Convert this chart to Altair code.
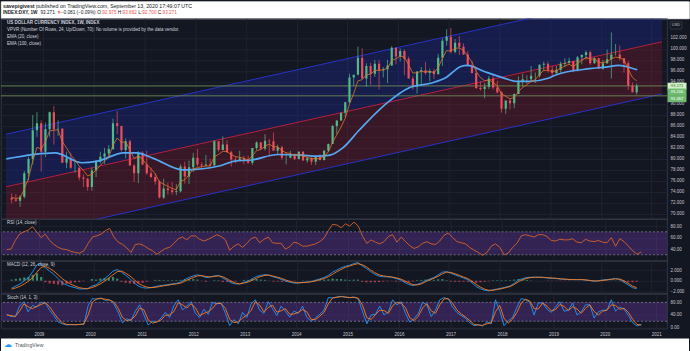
import altair as alt
import numpy as np
import pandas as pd

# ---------------- data (monthly bars, May 2008 - Sep 2020) ----------------
months = pd.date_range("2008-05-01", "2020-09-01", freq="MS")

open_ = [
    72.9, 72.6, 72.4, 73.1, 77.4, 80.0, 85.2, 86.5,
    81.3, 85.4, 88.5, 85.4, 85.5, 79.3, 80.1, 78.4, 78.4, 76.6, 76.4, 74.9,
    77.9, 79.5, 80.4, 81.0, 81.8, 86.5, 86.0, 81.6, 83.2, 78.8, 77.4, 81.1,
    79.0, 77.4, 76.7, 75.9, 73.0, 74.6, 74.3, 74.0, 74.1, 78.6, 76.8, 78.5,
    80.2, 79.0, 78.8, 79.0, 78.8, 83.2, 81.6, 82.6, 81.2, 79.9, 79.8, 80.1,
    79.8, 79.3, 82.0, 83.0, 81.9, 83.3, 83.2, 81.5, 82.1, 80.2, 80.2, 80.7,
    80.0, 81.3, 79.7, 80.1, 79.5, 80.4, 79.8, 81.5, 82.7, 86.0, 87.0, 88.4,
    90.3, 94.8, 95.3, 98.4, 94.6, 96.9, 95.5, 97.3, 96.1, 96.3, 97.0, 100.2,
    98.6, 99.6, 98.2, 94.6, 93.1, 95.9, 96.1, 95.6, 96.0, 95.4, 98.4, 101.5,
    102.2, 99.5, 101.1, 100.4, 99.0, 97.0, 95.6, 92.9, 92.7, 93.1, 94.6, 93.0,
    92.1, 89.1, 90.6, 90.1, 91.8, 94.0, 94.5, 94.5, 95.1, 95.1, 97.1, 97.3,
    96.2, 95.6, 96.2, 97.3, 97.5, 97.8, 96.1, 98.5, 98.9, 99.4, 97.4, 98.3,
    96.4, 97.4, 98.1, 99.0, 99.0, 98.3, 97.4, 93.3, 92.1,
]
high = [
    73.7, 73.6, 73.4, 77.8, 80.4, 88.0, 88.5, 87.0,
    86.6, 88.6, 89.6, 87.0, 85.6, 81.3, 81.1, 79.5, 78.5, 77.2, 76.6, 78.4,
    79.8, 81.3, 82.0, 82.5, 87.3, 88.7, 86.0, 83.7, 83.5, 79.0, 81.4, 81.4,
    81.5, 78.4, 77.4, 76.1, 76.4, 75.7, 75.8, 75.4, 79.0, 79.5, 79.7, 81.1,
    81.8, 79.4, 80.7, 80.0, 83.4, 83.2, 84.1, 83.4, 81.5, 80.4, 81.5, 80.6,
    80.6, 82.0, 83.2, 83.1, 84.5, 83.6, 84.8, 82.6, 82.4, 81.1, 81.5, 81.0,
    81.4, 81.4, 80.4, 80.4, 80.5, 80.8, 81.6, 82.8, 86.2, 87.0, 88.4, 90.4,
    95.5, 95.3, 100.4, 100.1, 97.4, 97.5, 98.0, 98.0, 96.7, 98.0, 100.5, 100.3,
    100.1, 99.9, 98.6, 95.1, 95.9, 96.7, 97.6, 96.4, 96.4, 99.1, 101.9, 103.6,
    103.8, 101.8, 102.3, 101.0, 99.6, 97.8, 96.4, 94.1, 93.8, 95.1, 95.2, 94.2,
    92.3, 90.6, 90.9, 91.9, 95.0, 95.5, 95.2, 96.9, 95.7, 97.2, 97.7, 97.7,
    96.9, 96.9, 97.7, 98.3, 98.4, 97.8, 98.7, 99.0, 99.7, 99.7, 98.5, 98.4,
    98.0, 99.9, 103.0, 100.9, 100.6, 98.3, 97.8, 93.9, 93.7,
]
low = [
    71.9, 72.2, 71.3, 72.8, 76.1, 79.0, 84.0, 77.7,
    80.3, 84.0, 82.6, 84.2, 79.3, 78.3, 78.2, 77.5, 76.1, 74.9, 74.2, 74.2,
    76.7, 79.2, 79.1, 80.1, 81.6, 84.5, 81.3, 80.1, 78.8, 75.8, 75.6, 78.9,
    77.1, 76.5, 75.3, 72.8, 72.7, 73.5, 73.5, 73.4, 73.9, 75.5, 75.4, 77.6,
    78.6, 78.1, 78.7, 78.6, 78.8, 81.3, 81.6, 81.2, 78.6, 79.2, 79.8, 79.0,
    79.1, 78.9, 81.6, 81.6, 81.5, 80.5, 81.5, 80.9, 79.9, 79.0, 80.1, 79.8,
    79.9, 79.7, 79.3, 78.9, 78.9, 79.7, 79.7, 81.2, 82.7, 84.5, 86.9, 87.6,
    90.1, 93.2, 95.2, 94.6, 93.1, 93.5, 94.9, 92.6, 94.8, 93.8, 96.9, 97.2,
    97.7, 95.2, 94.6, 92.6, 91.9, 93.5, 95.3, 94.1, 94.5, 95.4, 96.9, 100.6,
    99.2, 99.2, 98.9, 98.9, 96.8, 95.5, 92.7, 92.4, 91.0, 92.7, 92.6, 91.9,
    88.4, 88.2, 89.0, 89.2, 91.8, 93.2, 93.7, 94.1, 93.8, 94.8, 96.0, 95.7,
    95.0, 95.2, 95.7, 96.7, 97.1, 95.8, 95.9, 97.2, 98.1, 97.1, 97.3, 96.4,
    96.2, 97.3, 94.6, 98.8, 97.9, 95.7, 92.5, 92.1, 91.7,
]
close = [
    72.6, 72.4, 73.1, 77.4, 80.0, 85.2, 86.5, 81.3,
    85.4, 88.5, 85.4, 85.5, 79.3, 80.1, 78.4, 78.4, 76.6, 76.4, 74.9, 77.9,
    79.5, 80.4, 81.0, 81.8, 86.5, 86.0, 81.6, 83.2, 78.8, 77.4, 81.1, 79.0,
    77.4, 76.7, 75.9, 73.0, 74.6, 74.3, 74.0, 74.1, 78.6, 76.8, 78.5, 80.2,
    79.0, 78.8, 79.0, 78.8, 83.2, 81.6, 82.6, 81.2, 79.9, 79.8, 80.1, 79.8,
    79.3, 82.0, 83.0, 81.9, 83.3, 83.2, 81.5, 82.1, 80.2, 80.2, 80.7, 80.0,
    81.3, 79.7, 80.1, 79.5, 80.4, 79.8, 81.5, 82.7, 86.0, 87.0, 88.4, 90.3,
    94.8, 95.3, 98.4, 94.6, 96.9, 95.5, 97.3, 96.1, 96.3, 97.0, 100.2, 98.6,
    99.6, 98.2, 94.6, 93.1, 95.9, 96.1, 95.6, 96.0, 95.4, 98.4, 101.5, 102.2,
    99.5, 101.1, 100.4, 99.0, 97.0, 95.6, 92.9, 92.7, 93.1, 94.6, 93.0, 92.1,
    89.1, 90.6, 90.1, 91.8, 94.0, 94.5, 94.5, 95.1, 95.1, 97.1, 97.3, 96.2,
    95.6, 96.2, 97.3, 97.5, 97.8, 96.1, 98.5, 98.9, 99.4, 97.4, 98.3, 96.4,
    97.4, 98.1, 99.0, 99.0, 98.3, 97.4, 93.3, 92.1, 93.3,
]
ema20 = [
    73.0, 72.8, 72.9, 74.5, 76.5, 79.6, 82.1, 81.8,
    83.1, 85.1, 85.2, 85.3, 83.1, 82.0, 80.7, 79.8, 78.7, 77.9, 76.9, 77.2,
    78.0, 78.8, 79.6, 80.3, 82.5, 83.8, 83.0, 83.1, 81.6, 80.1, 80.5, 79.9,
    79.0, 78.2, 77.3, 75.8, 75.4, 75.0, 74.6, 74.4, 75.9, 76.2, 77.1, 78.2,
    78.4, 78.6, 78.7, 78.7, 80.4, 80.8, 81.4, 81.3, 80.8, 80.4, 80.3, 80.1,
    79.8, 80.6, 81.5, 81.7, 82.3, 82.7, 82.2, 82.2, 81.5, 81.1, 81.0, 80.6,
    80.9, 80.5, 80.3, 80.0, 80.1, 80.0, 80.5, 81.3, 83.0, 84.4, 85.8, 87.4,
    90.0, 91.9, 94.2, 94.4, 95.3, 95.4, 96.1, 96.1, 96.2, 96.5, 97.9, 98.2,
    98.7, 98.5, 97.1, 95.6, 95.7, 95.9, 95.8, 95.9, 95.7, 96.6, 98.3, 99.7,
    99.6, 100.1, 100.2, 99.7, 98.7, 97.6, 95.9, 94.8, 94.2, 94.4, 93.9, 93.3,
    91.8, 91.4, 90.9, 91.2, 92.2, 93.0, 93.5, 94.1, 94.4, 95.4, 96.1, 96.1,
    95.9, 96.0, 96.5, 96.9, 97.2, 96.8, 97.4, 97.9, 98.5, 98.1, 98.2, 97.5,
    97.5, 97.7, 98.2, 98.5, 98.4, 98.0, 96.3, 94.8, 94.2,
]
# EMA(100) read at points along the curve (decimal years)
ema100_t = [2008.27, 2009.23, 2009.76, 2010.07, 2010.59, 2010.84, 2011.17, 2011.75, 2012.00,
            2012.47, 2012.78, 2013.11, 2013.63, 2014.08, 2014.41, 2014.66, 2014.91, 2015.24,
            2015.76, 2016.21, 2016.66, 2016.93, 2017.24, 2017.37, 2017.70, 2018.09, 2018.34,
            2018.59, 2018.98, 2019.12, 2019.78, 2020.10, 2020.36, 2020.49, 2020.72]
ema100_v = [80.0, 81.1, 79.3, 79.6, 81.1, 81.1, 80.1, 78.0, 78.1,
            78.7, 79.6, 79.8, 80.8, 80.7, 80.5, 80.7, 82.0, 85.3,
            90.0, 92.9, 93.8, 94.7, 96.8, 97.0, 95.9, 94.7, 94.1,
            94.1, 94.7, 95.3, 96.4, 96.7, 97.0, 96.8, 96.2]

# regression channel end points
chan_t = [2008.2636, 2021.2094]
chan_upper = [84.48, 110.9]
chan_mid = [74.93, 101.3]
chan_lower = [65.38, 91.8]
price_lines = [93.271, 91.467]

rsi = [
    39, 40, 55, 66, 70, 73, 79, 70,
    60, 66, 55, 48, 43, 40, 39, 36, 34, 33, 37, 50,
    61, 63, 66, 72, 76, 61, 52, 48, 42, 34, 48, 49,
    46, 41, 37, 31, 36, 41, 43, 50, 58, 61, 56, 63,
    63, 57, 54, 57, 61, 65, 62, 56, 38, 45, 49, 43,
    50, 58, 61, 51, 57, 61, 51, 50, 50, 40, 44, 52,
    50, 45, 45, 47, 49, 53, 59, 72, 83, 82, 77, 84,
    80, 87, 80, 62, 50, 56, 52, 49, 53, 62, 65, 52,
    61, 53, 46, 41, 44, 50, 53, 49, 48, 54, 64, 68,
    60, 53, 51, 49, 43, 38, 34, 29, 34, 45, 49, 43,
    30, 33, 43, 50, 63, 65, 63, 61, 65, 65, 62, 55,
    54, 57, 56, 56, 58, 52, 51, 57, 54, 53, 55, 52,
    51, 60, 45, 58, 53, 45, 37, 31, 35,
]
macd = [
    -1.4, -1.0, -0.6, 0.0, 0.6, 1.7, 3.0, 3.2,
    2.4, 1.8, 1.2, 0.4, -0.45, -0.8, -1.1, -1.3, -1.55, -1.55, -1.5, -1.0,
    -0.8, -0.2, 0.4, 1.0, 1.8, 2.1, 1.6, 1.0, 0.4, -0.4, -1.0, -1.3,
    -1.4, -1.3, -1.1, -0.95, -0.85, -0.75, -0.6, -0.5, -0.3, 0.2, 0.6, 0.9,
    1.1, 0.9, 0.6, 0.7, 0.9, 1.0, 0.5, 0.1, -0.4, -0.6, -0.6, -0.3,
    -0.1, 0.4, 0.8, 1.0, 1.15, 1.0, 0.7, 0.5, 0.2, -0.1, -0.3, -0.45,
    -0.4, -0.3, -0.25, -0.15, 0.1, 0.35, 0.6, 1.0, 1.6, 2.0, 2.4, 2.7,
    2.9, 3.2, 3.4, 2.8, 2.3, 1.7, 1.2, 0.85, 0.75, 0.7, 0.65, 0.4,
    0.2, -0.3, -0.7, -0.9, -0.7, -0.45, 0.0, 0.3, 0.6, 1.1, 1.6, 1.7,
    1.4, 1.1, 0.8, 0.5, 0.2, -0.4, -1.1, -1.5, -1.8, -1.9, -1.7, -1.55,
    -1.4, -1.2, -1.0, -0.5, 0.1, 0.4, 0.6, 0.65, 0.65, 0.65, 0.6, 0.5,
    0.45, 0.4, 0.3, 0.25, 0.2, 0.2, 0.2, 0.2, 0.1, 0.0, -0.1, 0.0,
    0.15, 0.2, 0.3, 0.4, 0.2, -0.3, -0.8, -1.3, -1.5,
]
signal = [
    -1.6, -1.35, -1.05, -0.6, -0.1, 0.6, 1.6, 2.5,
    2.7, 2.3, 1.8, 1.1, 0.4, -0.2, -0.65, -1.0, -1.3, -1.45, -1.5, -1.3,
    -1.0, -0.6, -0.1, 0.5, 1.1, 1.7, 1.8, 1.4, 0.9, 0.2, -0.5, -0.9,
    -1.2, -1.3, -1.25, -1.1, -0.95, -0.85, -0.7, -0.6, -0.45, -0.1, 0.3, 0.6,
    0.9, 0.95, 0.8, 0.7, 0.8, 0.9, 0.75, 0.35, -0.1, -0.45, -0.6, -0.45,
    -0.25, 0.1, 0.5, 0.8, 1.0, 1.05, 0.85, 0.65, 0.4, 0.1, -0.15, -0.35,
    -0.4, -0.35, -0.3, -0.2, -0.05, 0.2, 0.4, 0.75, 1.2, 1.7, 2.1, 2.5,
    2.75, 3.0, 3.2, 3.0, 2.6, 2.0, 1.5, 1.1, 0.9, 0.8, 0.7, 0.55,
    0.35, 0.0, -0.4, -0.75, -0.8, -0.6, -0.2, 0.15, 0.45, 0.85, 1.3, 1.6,
    1.55, 1.3, 1.0, 0.7, 0.4, -0.1, -0.7, -1.2, -1.6, -1.8, -1.8, -1.65,
    -1.5, -1.3, -1.1, -0.7, -0.2, 0.2, 0.45, 0.6, 0.65, 0.65, 0.62, 0.55,
    0.5, 0.45, 0.35, 0.3, 0.25, 0.2, 0.2, 0.2, 0.15, 0.05, -0.05, -0.05,
    0.05, 0.15, 0.25, 0.35, 0.3, 0.0, -0.5, -1.0, -1.3,
]
stoch_k = [
    42, 35, 35, 68, 82, 50, 70, 65,
    80, 78, 55, 38, 18, 12, 8, 10, 9, 10, 11, 70,
    92, 90, 94, 86, 88, 75, 48, 15, 28, 22, 52, 72,
    40, 8, 20, 17, 30, 48, 32, 70, 88, 56, 68, 82,
    45, 32, 58, 42, 80, 75, 78, 45, 6, 25, 12, 48,
    32, 75, 88, 55, 45, 82, 60, 38, 68, 52, 33, 52,
    45, 68, 32, 20, 30, 42, 55, 95, 94, 97, 99, 96,
    95, 97, 90, 50, 12, 40, 42, 68, 40, 50, 88, 72,
    82, 45, 17, 28, 45, 80, 72, 35, 55, 88, 95, 90,
    65, 48, 38, 30, 15, 6, 9, 5, 18, 12, 88, 52,
    6, 22, 32, 65, 92, 88, 80, 40, 78, 78, 58, 48,
    65, 82, 52, 55, 78, 40, 50, 72, 72, 30, 50, 55,
    55, 88, 52, 65, 58, 38, 15, 5, 10,
]
stoch_d = [
    40, 38, 35, 52, 75, 66, 60, 67,
    73, 79, 66, 46, 28, 15, 10, 9, 9, 10, 11, 40,
    81, 91, 92, 90, 87, 81, 61, 32, 22, 25, 37, 62,
    56, 24, 14, 18, 24, 39, 40, 51, 79, 72, 62, 75,
    63, 38, 45, 50, 61, 77, 76, 61, 26, 16, 18, 30,
    40, 54, 82, 71, 50, 64, 71, 49, 53, 60, 42, 43,
    48, 57, 50, 26, 25, 36, 48, 75, 94, 96, 98, 97,
    95, 96, 93, 70, 31, 26, 41, 55, 54, 45, 69, 80,
    77, 63, 31, 22, 36, 62, 76, 53, 45, 72, 91, 92,
    77, 56, 43, 34, 22, 10, 8, 7, 12, 15, 50, 70,
    29, 14, 27, 48, 78, 90, 84, 60, 59, 78, 68, 53,
    57, 73, 67, 54, 66, 59, 45, 61, 72, 51, 40, 52,
    55, 72, 70, 58, 61, 48, 26, 10, 8,
]
years = list(range(2009, 2022))
main_ticks = list(range(70, 103, 2))

# ---------------- tables ----------------
t = np.asarray(months.year + (months.month - 0.5) / 12, dtype=float)
bars = pd.DataFrame({"t": t, "open": open_, "high": high, "low": low,
                     "close": close, "ema20": ema20})
bars["dir"] = np.where(bars["close"] >= bars["open"], "up", "down")
ema100 = pd.DataFrame({"t": ema100_t, "v": ema100_v})
chan = pd.DataFrame({"t": chan_t, "upper": chan_upper, "mid": chan_mid, "lower": chan_lower})
plines = pd.DataFrame({"p": price_lines})
osc = pd.DataFrame({"t": t, "rsi": rsi, "macd": macd, "signal": signal,
                    "k": stoch_k, "d": stoch_d})
osc["hist"] = osc["macd"] - osc["signal"]
osc["hdir"] = np.where(osc["hist"] >= 0, "pos", "neg")

# ---------------- style ----------------
W = 668
FONT = "Liberation Sans"
BG = "#131722"
GRID = "#1f2330"
TXT = "#d1d4dc"
AX = "#c3c6ce"
UP, DOWN = "#53b987", "#eb4d5c"
FS = 4.5
AFS = 4.5

xs = alt.Scale(domain=[2008.2636, 2021.2094], nice=False, zero=False)
x_hidden = alt.Axis(values=years, labels=False, ticks=False, domain=False, grid=True,
                    gridColor=GRID, title=None, minExtent=0, maxExtent=0)
x_bottom = alt.Axis(values=years, format="d", ticks=False, domain=False, grid=True,
                    gridColor=GRID, title=None, labelFontSize=AFS, labelColor=AX,
                    labelFont=FONT, labelPadding=3, labelOverlap=False)


def yaxis(vals, fmt):
    return alt.Axis(orient="right", values=vals, format=fmt, ticks=False, domain=False,
                    grid=True, gridColor=GRID, title=None, labelFontSize=AFS,
                    labelColor=AX, labelFont=FONT, labelPadding=3, labelOverlap=False,
                    labelSeparation=0)


AX_MAIN = yaxis(main_ticks, ".3f")
AX_RSI = yaxis([40, 60, 80], ".2f")
AX_MACD = yaxis([-2, 0, 2], ".3f")
AX_ST = yaxis([0, 40, 80], ".2f")


def label(text, x, y, size=FS, color=TXT, weight="normal", align="left"):
    return alt.Chart(alt.Data(values=[{}])).mark_text(
        text=text, align=align, baseline="middle", fontSize=size, color=color,
        fontWeight=weight, font=FONT
    ).encode(x=alt.value(x), y=alt.value(y))


X = alt.X("t:Q", scale=xs, axis=x_hidden)
one = alt.Data(values=[{}])

# ---------------- main price panel ----------------
ys = alt.Scale(domain=[69.09, 105.54], nice=False, zero=False)


def YM(field):
    return alt.Y(field, scale=ys, axis=AX_MAIN)


area_up = alt.Chart(chan).mark_area(color="#1f2ca8", opacity=0.3, clip=True).encode(
    x=X, y=YM("upper:Q"), y2="mid:Q")
area_dn = alt.Chart(chan).mark_area(color="#8a1a32", opacity=0.32, clip=True).encode(
    x=X, y=YM("mid:Q"), y2="lower:Q")
line_up = alt.Chart(chan).mark_line(color="#2832c8", strokeWidth=1, clip=True).encode(
    x=X, y=YM("upper:Q"))
line_mid = alt.Chart(chan).mark_line(color="#b51f3c", strokeWidth=1, clip=True).encode(
    x=X, y=YM("mid:Q"))
line_lo = alt.Chart(chan).mark_line(color="#2832c8", strokeWidth=1, clip=True).encode(
    x=X, y=YM("lower:Q"))
prules = alt.Chart(plines).mark_rule(color="#6f8c55", strokeWidth=0.9).encode(
    y=YM("p:Q"))

cscale = alt.Scale(domain=["up", "down"], range=[UP, DOWN])
wicks = alt.Chart(bars).mark_rule(strokeWidth=0.7, clip=True).encode(
    x=X, y=YM("low:Q"), y2="high:Q",
    color=alt.Color("dir:N", scale=cscale, legend=None))
bodies = alt.Chart(bars).mark_bar(size=2.2, clip=True).encode(
    x=X, y=YM("open:Q"), y2="close:Q",
    color=alt.Color("dir:N", scale=cscale, legend=None))
e20 = alt.Chart(bars).mark_line(color="#e0762a", strokeWidth=0.8, clip=True).encode(
    x=X, y=YM("ema20:Q"))
e100 = alt.Chart(ema100).mark_line(color="#55a8f2", strokeWidth=1.7, interpolate="monotone",
                                   clip=True).encode(x=X, y=YM("v:Q"))


def price_box(price, text, fill, tcolor, dy):
    d = pd.DataFrame({"p": [price]})
    base = alt.Chart(d)
    box = base.mark_point(shape="M-1,-0.37H1V0.37H-1Z", size=361, filled=True, fill=fill,
                          opacity=1, strokeWidth=0, yOffset=dy).encode(
        x=alt.value(W + 10), y=YM("p:Q"))
    txt = base.mark_text(text=text, fontSize=4.2, color=tcolor, font=FONT, yOffset=dy,
                         baseline="middle").encode(
        x=alt.value(W + 10), y=YM("p:Q"))
    return box + txt


usd_box = alt.Chart(one).mark_point(
    shape="M-1,-0.6H1V0.6H-1Z", size=144, filled=False, stroke="#5d606b",
    strokeWidth=0.6).encode(x=alt.value(W + 9), y=alt.value(7))

main = alt.layer(
    area_up, area_dn, line_up, line_mid, line_lo, prules, wicks, bodies, e100, e20,
    label("US DOLLAR CURRENCY INDEX, 1W, INDEX", 6, 4.5, weight="bold"),
    label("VPVR (Number Of Rows, 24, Up/Down, 70): No volume is provided by the data vendor.", 6, 11.5),
    label("EMA (20, close)", 6, 18.5),
    label("EMA (100, close)", 6, 25.5),
    price_box(93.271, "93.271", "#d3efc6", "#2e7d32", 0.3),
    price_box(93.206, "93.206", "#6dbb6e", "#ffffff", 5.8),
    price_box(91.467, "91.467", "#6dbb6e", "#ffffff", 2.8),
    usd_box,
    label("USD", W + 9, 7, size=4, color=AX, align="center"),
).properties(width=W, height=201)

# ---------------- RSI ----------------
yr = alt.Scale(domain=[19.6, 92.6], nice=False, zero=False)
rsi_band = alt.Chart(one).mark_rect(color="#7b3fc4", opacity=0.3).encode(
    x=alt.value(0), x2=alt.value("width"),
    y=alt.Y(datum=70, scale=yr, axis=AX_RSI), y2=alt.datum(30))
rsi_dash = alt.Chart(pd.DataFrame({"v": [70, 30]})).mark_rule(
    color="#8a8d98", strokeDash=[2, 2], strokeWidth=0.7).encode(
    y=alt.Y("v:Q", scale=yr, axis=AX_RSI))
rsi_line = alt.Chart(osc).mark_line(color="#d9622b", strokeWidth=0.9).encode(
    x=X, y=alt.Y("rsi:Q", scale=yr, axis=AX_RSI))
rsi_panel = alt.layer(rsi_band, rsi_dash, rsi_line,
                      label("RSI (14, close)", 6, 4.5)).properties(width=W, height=42)

# ---------------- MACD ----------------
ym = alt.Scale(domain=[-2.43, 3.74], nice=False, zero=False)
hscale = alt.Scale(domain=["pos", "neg"], range=["#26a69a", "#ef5350"])
hist = alt.Chart(osc).mark_bar(size=2.2, opacity=0.7).encode(
    x=X, y=alt.Y("hist:Q", scale=ym, axis=AX_MACD), y2=alt.datum(0),
    color=alt.Color("hdir:N", scale=hscale, legend=None))
sig_line = alt.Chart(osc).mark_line(color="#ff7a1a", strokeWidth=0.9).encode(
    x=X, y=alt.Y("signal:Q", scale=ym, axis=AX_MACD))
macd_line = alt.Chart(osc).mark_line(color="#2196f3", strokeWidth=0.9).encode(
    x=X, y=alt.Y("macd:Q", scale=ym, axis=AX_MACD))
macd_panel = alt.layer(hist, macd_line, sig_line,
                       label("MACD (12, 26, close, 9)", 6, 4.5)).properties(width=W, height=33)

# ---------------- Stoch ----------------
yst = alt.Scale(domain=[-3.2, 107.5], nice=False, zero=False)
XB = alt.X("t:Q", scale=xs, axis=x_bottom)
st_band = alt.Chart(one).mark_rect(color="#7b3fc4", opacity=0.3).encode(
    x=alt.value(0), x2=alt.value("width"),
    y=alt.Y(datum=80, scale=yst, axis=AX_ST), y2=alt.datum(20))
st_dash = alt.Chart(pd.DataFrame({"v": [80, 20]})).mark_rule(
    color="#8a8d98", strokeDash=[2, 2], strokeWidth=0.7).encode(
    y=alt.Y("v:Q", scale=yst, axis=AX_ST))
k_line = alt.Chart(osc).mark_line(color="#2196f3", strokeWidth=0.9).encode(
    x=XB, y=alt.Y("k:Q", scale=yst, axis=AX_ST))
d_line = alt.Chart(osc).mark_line(color="#ff7a1a", strokeWidth=0.9).encode(
    x=XB, y=alt.Y("d:Q", scale=yst, axis=AX_ST))
stoch_panel = alt.layer(st_band, st_dash, k_line, d_line,
                        label("Stoch (14, 1, 3)", 6, 4.5)).properties(width=W, height=35)

# ---------------- header / footer ----------------
DARK = "#131722"
RED = "#ef5350"
H2 = 4.7
header = alt.layer(
    label("savepigivest", 2, 4.5, size=5.3, color=DARK, weight="bold"),
    label("published on TradingView.com, September 13, 2020 17:49:07 UTC", 35, 4.5, size=5.3, color=DARK),
    label("INDEX:DXY, 1W", 2, 12, size=H2, color=DARK, weight="bold"),
    label("93.271", 39.6, 12, size=H2, color=DARK),
    label("▼", 55.8, 12, size=H2, color=RED),
    label("−0.081 (−0.09%)", 60, 12, size=H2, color=DARK),
    label("O:", 96.5, 12, size=H2, color=DARK),
    label("92.975", 101.5, 12, size=H2, color=RED),
    label("H:", 117.2, 12, size=H2, color=DARK),
    label("93.662", 121.9, 12, size=H2, color=RED),
    label("L:", 137.7, 12, size=H2, color=DARK),
    label("92.700", 141.6, 12, size=H2, color=RED),
    label("C:", 157.3, 12, size=H2, color=DARK),
    label("93.271", 162, 12, size=H2, color=RED),
).properties(width=690, height=17, view=alt.ViewBackground(fill="white", stroke="white"))

footer = alt.layer(
    alt.Chart(one).mark_rect(color="white").encode(
        x=alt.value(0), x2=alt.value(690), y=alt.value(10), y2=alt.value(23)),
    label("☁", 3, 16.5, size=8, color="#2196f3"),
    label("TradingView", 14, 16.5, size=5.2, color="#50535e"),
).properties(width=690, height=23,
             view=alt.ViewBackground(fill="transparent", stroke="transparent"))

chart = alt.vconcat(header, main, rsi_panel, macd_panel, stoch_panel, footer,
                    spacing=0, bounds="flush").configure(
    background=BG, padding=0
).configure_view(stroke="#3a3e4a", strokeWidth=0.8).configure_text(font=FONT
).configure_axis(labelOverlap=False, labelSeparation=0)

chart.save("out.html", embed_options={"renderer": "svg", "actions": False})
